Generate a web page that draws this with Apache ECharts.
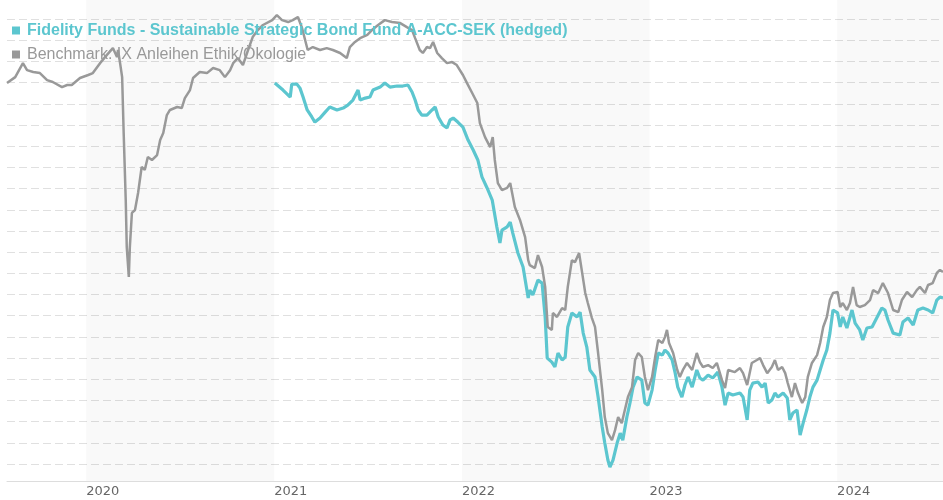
<!DOCTYPE html>
<html>
<head>
<meta charset="utf-8">
<script src="https://cdn.jsdelivr.net/npm/echarts@6/dist/echarts.min.js"></script>
<style>
html,body{margin:0;padding:0;background:#fff;}
#c{width:943px;height:500px;}
</style>
</head>
<body>
<div id="c"></div>
<script>
const fundName = 'Fidelity Funds - Sustainable Strategic Bond Fund A-ACC-SEK (hedged)';
const benchName = 'Benchmark: IX Anleihen Ethik/Ökologie';

const yearTicks = ['2020-01-01','2021-01-01','2022-01-01','2023-01-01','2024-01-01'];
const shadedYears = [['2020-01-01','2021-01-01'],['2022-01-01','2023-01-01'],['2024-01-01','2024-07-25']];
const axisStart = '2019-07-31';
const axisEnd = '2024-07-25';

const benchDates = ['2019-07-31','2019-08-16','2019-08-31','2019-09-08','2019-09-20','2019-10-03','2019-10-17','2019-10-28','2019-11-15','2019-11-25','2019-12-04','2019-12-20',
'2020-01-05','2020-01-14','2020-01-28','2020-02-10','2020-02-22','2020-03-01','2020-03-03','2020-03-07','2020-03-11','2020-03-14','2020-03-18','2020-03-20','2020-03-24','2020-03-26','2020-03-30','2020-04-05','2020-04-11','2020-04-18','2020-04-24','2020-04-30','2020-05-08','2020-05-18','2020-05-24','2020-05-30','2020-06-06','2020-06-12','2020-06-26','2020-07-05','2020-07-11','2020-07-21','2020-07-27','2020-08-09','2020-08-23','2020-09-04','2020-09-17','2020-09-27','2020-10-07','2020-10-13','2020-10-22','2020-11-01','2020-11-11','2020-11-20','2020-11-30','2020-12-10','2020-12-28',
'2021-01-06','2021-01-16','2021-01-28','2021-02-06','2021-02-16','2021-02-24','2021-03-02','2021-03-07','2021-03-17','2021-03-31','2021-04-13','2021-04-25','2021-05-09','2021-05-22','2021-05-28','2021-06-07','2021-06-17','2021-07-01','2021-07-10','2021-07-22','2021-08-04','2021-08-18','2021-09-03','2021-09-16','2021-09-26','2021-10-02','2021-10-11','2021-10-17','2021-10-25','2021-10-31','2021-11-06','2021-11-14','2021-11-23','2021-12-03','2021-12-13','2021-12-22',
'2022-01-03','2022-01-11','2022-01-21','2022-01-31','2022-02-05','2022-02-15','2022-02-25','2022-03-02','2022-03-06','2022-03-12','2022-03-20','2022-03-30','2022-04-05','2022-04-14','2022-04-24','2022-05-04','2022-05-10','2022-05-13','2022-05-23','2022-05-29','2022-06-06','2022-06-12','2022-06-17','2022-06-25','2022-06-27','2022-07-05','2022-07-15','2022-07-21','2022-07-26','2022-08-03','2022-08-09','2022-08-17','2022-08-23','2022-08-29','2022-09-03','2022-09-11','2022-09-17','2022-09-23','2022-10-01','2022-10-06','2022-10-12','2022-10-20','2022-10-26','2022-11-01','2022-11-08','2022-11-14','2022-11-20','2022-11-28','2022-12-04','2022-12-10','2022-12-17','2022-12-23','2022-12-29',
'2023-01-06','2023-01-12','2023-01-18','2023-01-26','2023-01-31','2023-02-04','2023-02-08','2023-02-16','2023-02-24','2023-03-01','2023-03-07','2023-03-15','2023-03-25','2023-04-03','2023-04-09','2023-04-15','2023-04-25','2023-05-04','2023-05-12','2023-05-22','2023-05-28','2023-06-03','2023-06-16','2023-06-26','2023-07-02','2023-07-10','2023-07-19','2023-07-29','2023-08-04','2023-08-10','2023-08-18','2023-08-27','2023-09-02','2023-09-08','2023-09-16','2023-09-22','2023-09-27','2023-10-05','2023-10-11','2023-10-17','2023-10-25','2023-10-31','2023-11-05','2023-11-13','2023-11-23','2023-11-29','2023-12-05','2023-12-12','2023-12-18','2023-12-24',
'2024-01-02','2024-01-07','2024-01-12','2024-01-20','2024-01-26','2024-02-01','2024-02-08','2024-02-14','2024-02-24','2024-03-05','2024-03-11','2024-03-21','2024-03-30','2024-04-09','2024-04-19','2024-04-29','2024-05-06','2024-05-16','2024-05-26','2024-06-04','2024-06-10','2024-06-20','2024-06-26','2024-07-05','2024-07-13','2024-07-19','2024-07-25'];

const benchValues = [-0.02,0.26,0.92,0.59,0.50,0.45,0.12,0.03,-0.21,-0.11,-0.11,0.22,
0.36,0.45,0.92,1.30,1.63,1.21,1.54,0.92,0.26,-2.38,-5.54,-7.76,-9.17,-7.76,-6.15,-6.01,-5.21,-3.98,-4.12,-3.51,-3.65,-3.42,-2.71,-2.38,-1.53,-1.29,-1.15,-1.20,-0.73,-0.35,0.22,0.50,0.45,0.69,0.59,0.26,0.59,0.92,1.16,0.83,1.54,2.15,2.48,2.72,2.95,
3.19,2.95,2.86,2.95,3.10,2.58,2.01,1.54,1.68,1.54,1.63,1.54,1.40,1.16,1.68,1.92,2.10,2.25,2.48,2.72,2.95,2.86,2.81,2.62,2.48,2.10,1.54,1.40,1.68,1.63,1.92,1.40,1.16,0.92,0.97,0.83,
0.36,-0.02,-0.49,-0.96,-1.91,-2.57,-3.04,-2.57,-3.65,-4.74,-5.07,-4.97,-4.74,-5.87,-6.48,-7.29,-8.38,-8.61,-8.75,-8.14,-8.70,-9.64,-11.53,-11.67,-10.87,-11.06,-10.64,-10.73,-9.64,-8.38,-8.47,-8.04,-8.98,-9.93,-10.40,-11.11,-11.53,-12.76,-14.51,-15.78,-16.54,-16.87,-16.40,-15.78,-16.07,-15.45,-14.84,-14.37,-13.09,-12.76,-12.95,-13.89,-14.51,
-13.89,-12.95,-12.15,-12.29,-12.01,-11.67,-12.29,-12.76,-13.56,-13.89,-13.56,-13.23,-13.56,-12.76,-13.19,-13.42,-13.33,-13.47,-13.23,-14.04,-14.41,-13.56,-13.66,-13.47,-13.71,-14.27,-13.23,-13.09,-13.00,-13.33,-13.71,-13.42,-13.09,-13.56,-13.42,-13.71,-14.18,-14.84,-14.18,-14.65,-15.12,-14.84,-13.89,-13.23,-12.86,-12.29,-11.53,-11.06,-10.26,-9.93,
-9.88,-10.59,-10.40,-10.73,-10.40,-9.64,-10.50,-10.59,-10.50,-10.26,-9.79,-9.93,-9.46,-9.93,-10.73,-10.83,-10.26,-9.88,-10.12,-9.79,-9.64,-9.93,-9.55,-9.46,-8.98,-8.84,-8.94];

const fundDates = ['2021-01-02','2021-01-18','2021-02-01','2021-02-04','2021-02-14','2021-02-20','2021-02-26','2021-03-06','2021-03-15','2021-03-21','2021-03-31','2021-04-10','2021-04-19','2021-05-03','2021-05-15','2021-05-24','2021-06-03','2021-06-13','2021-06-17','2021-06-27','2021-07-06','2021-07-12','2021-07-26','2021-08-04','2021-08-14','2021-08-28','2021-09-08','2021-09-18','2021-09-26','2021-10-02','2021-10-08','2021-10-15','2021-10-25','2021-11-04','2021-11-10','2021-11-16','2021-11-25','2021-12-03','2021-12-09','2021-12-15','2021-12-24',
'2022-01-03','2022-01-13','2022-01-23','2022-02-01','2022-02-09','2022-02-19','2022-03-01','2022-03-10','2022-03-16','2022-03-20','2022-03-30','2022-04-05','2022-04-10','2022-04-20','2022-04-30','2022-05-10','2022-05-13','2022-05-19','2022-05-29','2022-06-06','2022-06-12','2022-06-16','2022-06-25','2022-07-01','2022-07-07','2022-07-15','2022-07-21','2022-07-26','2022-08-03','2022-08-13','2022-08-19','2022-08-25','2022-09-01','2022-09-07','2022-09-17','2022-09-23','2022-10-01','2022-10-06','2022-10-12','2022-10-16','2022-10-22','2022-10-30','2022-11-05','2022-11-10','2022-11-18','2022-11-24','2022-11-30','2022-12-08','2022-12-17','2022-12-23','2022-12-29',
'2023-01-06','2023-01-12','2023-01-18','2023-01-26','2023-01-31','2023-02-06','2023-02-14','2023-02-20','2023-02-25','2023-03-05','2023-03-11','2023-03-17','2023-03-25','2023-04-03','2023-04-09','2023-04-15','2023-04-25','2023-05-04','2023-05-14','2023-05-22','2023-05-28','2023-06-03','2023-06-12','2023-06-26','2023-07-02','2023-07-10','2023-07-15','2023-07-21','2023-07-31','2023-08-08','2023-08-14','2023-08-20','2023-08-27','2023-09-02','2023-09-08','2023-09-18','2023-09-26','2023-10-01','2023-10-07','2023-10-15','2023-10-21','2023-10-27','2023-11-03','2023-11-09','2023-11-15','2023-11-23','2023-11-29','2023-12-05','2023-12-12','2023-12-18','2023-12-24',
'2024-01-02','2024-01-07','2024-01-12','2024-01-20','2024-01-30','2024-02-05','2024-02-14','2024-02-20','2024-02-28','2024-03-09','2024-03-19','2024-03-28','2024-04-03','2024-04-09','2024-04-19','2024-05-02','2024-05-08','2024-05-18','2024-05-28','2024-06-06','2024-06-16','2024-06-26','2024-07-05','2024-07-13','2024-07-19','2024-07-25'];

const fundValues = [-0.02,-0.35,-0.68,-0.07,-0.07,-0.26,-0.68,-1.29,-1.62,-1.86,-1.67,-1.39,-1.15,-1.29,-1.20,-1.06,-0.82,-0.35,-0.82,-0.73,-0.68,-0.35,-0.21,-0.02,-0.21,-0.16,-0.16,-0.11,-0.44,-0.82,-1.29,-1.53,-1.53,-1.29,-1.15,-1.62,-2.00,-2.14,-1.76,-1.67,-1.86,
-2.10,-2.71,-3.18,-3.65,-4.45,-4.97,-5.54,-6.81,-7.57,-6.96,-6.81,-6.58,-7.10,-8.04,-8.70,-10.16,-9.79,-10.02,-9.32,-9.46,-11.06,-13.00,-13.19,-13.42,-12.76,-13.09,-12.95,-11.53,-10.87,-11.06,-10.83,-11.82,-12.48,-13.56,-13.89,-14.84,-16.25,-17.01,-17.81,-18.14,-17.81,-17.01,-16.54,-16.87,-15.78,-15.12,-14.37,-13.89,-14.04,-15.12,-15.22,
-14.51,-13.56,-12.76,-12.86,-12.62,-12.76,-13.09,-13.71,-14.37,-14.84,-14.27,-13.89,-14.37,-13.56,-13.94,-14.04,-13.80,-13.94,-13.66,-14.37,-15.22,-14.65,-14.74,-14.65,-14.84,-15.92,-14.51,-14.18,-14.13,-14.37,-14.18,-15.12,-14.98,-14.65,-14.84,-14.65,-14.88,-15.92,-15.59,-15.45,-16.63,-16.06,-15.45,-14.84,-14.37,-14.04,-13.56,-13.09,-12.62,-11.82,-10.73,
-10.87,-11.53,-11.06,-11.58,-10.73,-11.35,-11.67,-12.15,-11.58,-11.53,-11.06,-10.64,-10.73,-11.20,-11.82,-11.91,-11.30,-11.11,-11.44,-10.73,-10.64,-10.73,-10.87,-10.26,-10.12,-10.16];

const yMin = -18.8, yMax = 3.9;

const tealColor = '#5cc6cf';
const greyColor = '#999999';

const pd = s => +echarts.number.parseDate(s);
const zip = (d, v) => d.map((x, i) => [pd(x), v[i]]);

const chart = echarts.init(document.getElementById('c'), null, {renderer: 'canvas'});
chart.setOption({
  animation: false,
  backgroundColor: '#ffffff',
  grid: {left: 7, right: 0, top: 0, bottom: 19, containLabel: false},
  legend: {
    orient: 'vertical',
    left: 7,
    top: 17,
    icon: 'rect',
    itemWidth: 8,
    itemHeight: 8,
    itemGap: 7,
    selectedMode: false,
    textStyle: {fontFamily: 'Liberation Sans', fontSize: 16, lineHeight: 17, padding: [0, 0, 0, 2]},
    data: [
      {name: fundName, textStyle: {color: tealColor, fontWeight: 'bold'}},
      {name: benchName, textStyle: {color: greyColor, fontWeight: 'normal'}}
    ]
  },
  xAxis: {
    type: 'value',
    min: pd(axisStart),
    max: pd(axisEnd),
    axisLine: {show: true, onZero: false, lineStyle: {color: '#dddddd', width: 1}},
    axisTick: {show: false},
    splitLine: {show: false},
    axisLabel: {
      customValues: yearTicks.map(pd),
      formatter: v => String(new Date(v).getFullYear()),
      align: 'left',
      margin: 4,
      color: '#666666',
      fontFamily: 'DejaVu Sans',
      fontSize: 13
    }
  },
  yAxis: {
    type: 'value',
    min: yMin,
    max: yMax,
    minInterval: 1,
    maxInterval: 1,
    axisLine: {show: false},
    axisTick: {show: false},
    axisLabel: {show: false},
    splitLine: {show: true, showMinLine: false, showMaxLine: false, lineStyle: {color: '#e0e0e0', type: [8, 4], width: 1}}
  },
  series: [
    {
      name: fundName,
      type: 'line',
      data: zip(fundDates, fundValues),
      showSymbol: false,
      symbol: 'none',
      color: tealColor,
      lineStyle: {color: tealColor, width: 3.2},
      z: 2,
      markArea: {
        silent: true,
        itemStyle: {color: 'rgba(0,0,0,0.025)'},
        data: shadedYears.map(p => [{xAxis: pd(p[0])}, {xAxis: pd(p[1])}])
      }
    },
    {
      name: benchName,
      type: 'line',
      data: zip(benchDates, benchValues),
      showSymbol: false,
      symbol: 'none',
      color: greyColor,
      lineStyle: {color: greyColor, width: 2.5},
      z: 3
    }
  ]
});
</script>
</body>
</html>
